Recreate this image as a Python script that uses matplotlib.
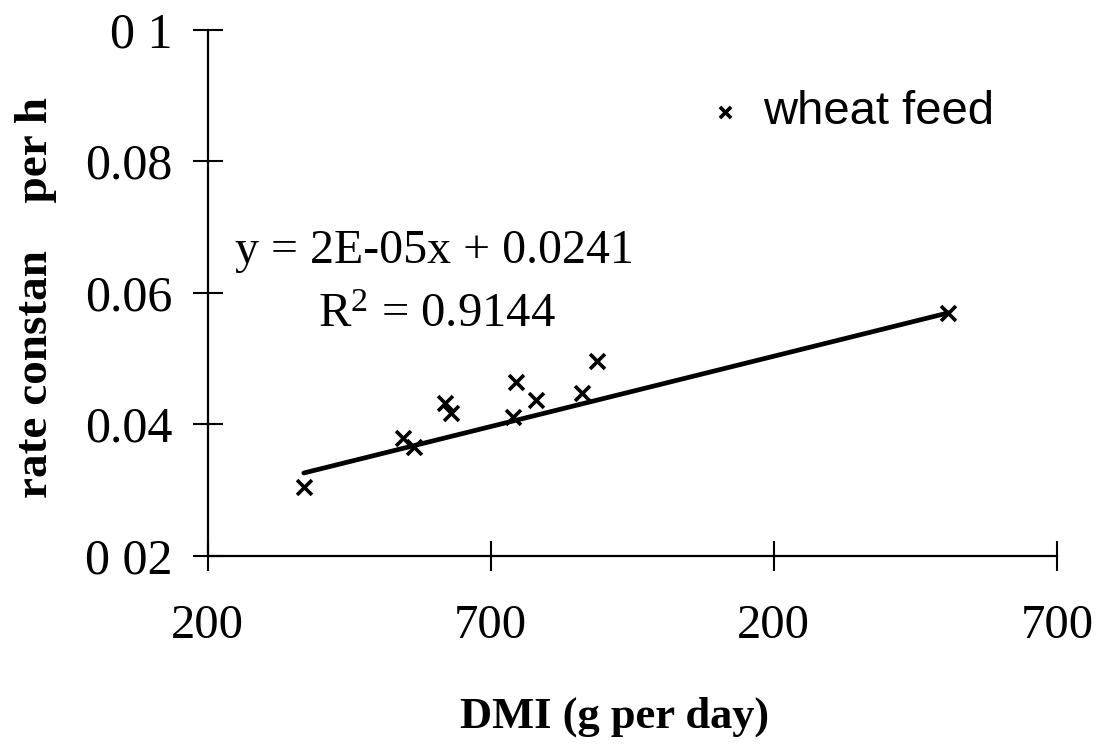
import numpy as np
import matplotlib
matplotlib.use("Agg")
import matplotlib.pyplot as plt

# Data
dmi = [370, 545, 565, 620, 630, 745, 740, 780, 862, 888, 1508]
rate = [0.0304, 0.0379, 0.0365, 0.0432, 0.0417, 0.0464, 0.0411, 0.0436, 0.0447, 0.0496, 0.0569]
# trendline as drawn in the chart (slope, intercept)
trend_slope = 2.14e-5
trend_intercept = 0.02463
x_ticks = [200, 700, 1200, 1700]
x_tick_labels = ["200", "700", "200", "700"]
y_ticks = [0.02, 0.04, 0.06, 0.08, 0.10]
y_tick_labels = ["0 02", "0.04", "0.06", "0.08", "0 1"]
series_label = "wheat feed"
eq_text = "y = 2E-05x + 0.0241"
r2_text = "R$^{2}$ = 0.9144"

plt.rcParams["mathtext.fontset"] = "custom"
plt.rcParams["mathtext.rm"] = "Liberation Serif"
plt.rcParams["mathtext.it"] = "Liberation Serif:italic"
plt.rcParams["mathtext.bf"] = "Liberation Serif:bold"
plt.rcParams["mathtext.default"] = "regular"

W, H = 1114, 745
fig = plt.figure(figsize=(W / 100, H / 100), dpi=100)
ax = fig.add_axes([207.5 / W, 1 - 555.5 / H, (1057 - 207.5) / W, (555.5 - 29.5) / H])

serif = "Liberation Serif"
sans = "Liberation Sans"

sc = ax.scatter(dmi, rate, marker="x", s=115, color="black", linewidths=2.6,
                label=series_label, zorder=3)

xs = np.array([min(dmi), max(dmi)])
ax.plot(xs, trend_slope * xs + trend_intercept, color="black", lw=3.4,
        solid_capstyle="round", zorder=2)

ax.set_xlim(200, 1700)
ax.set_ylim(0.02, 0.10)
ax.set_xticks(x_ticks)
ax.set_xticklabels(x_tick_labels, fontfamily=serif, fontsize=35)
ax.set_yticks(y_ticks)
ax.set_yticklabels(y_tick_labels, fontfamily=serif, fontsize=36)
ax.tick_params(axis="both", direction="inout", length=22, width=1.5, color="black")
ax.tick_params(axis="x", pad=24)
ax.tick_params(axis="y", pad=14)

for s in ["top", "right"]:
    ax.spines[s].set_visible(False)
for s in ["left", "bottom"]:
    ax.spines[s].set_linewidth(1.6)

# equation annotations
fig.text(235 / W, 1 - 263 / H, eq_text, fontfamily=serif, fontsize=34.5,
         ha="left", va="baseline")
fig.text(437 / W, 1 - 327 / H, r2_text, fontfamily=serif, fontsize=35,
         ha="center", va="baseline")

# axis labels
fig.text(615 / W, 1 - 728 / H, "DMI (g per day)", fontfamily=serif, fontsize=32,
         fontweight="bold", ha="center", va="baseline")
fig.text(36 / W, 1 - 298 / H, "rate constan    per h", fontfamily=serif, fontsize=34,
         fontweight="bold", ha="center", va="center", rotation=90)

leg = ax.legend(handles=[sc], loc="center left", bbox_to_anchor=(716 / W, 1 - 112.5 / H),
                bbox_transform=fig.transFigure, frameon=False, borderpad=0,
                borderaxespad=0, handlelength=0.4, handletextpad=0.6,
                markerscale=0.75, prop={"family": sans, "size": 34})

fig.savefig("out.png", dpi=100)
